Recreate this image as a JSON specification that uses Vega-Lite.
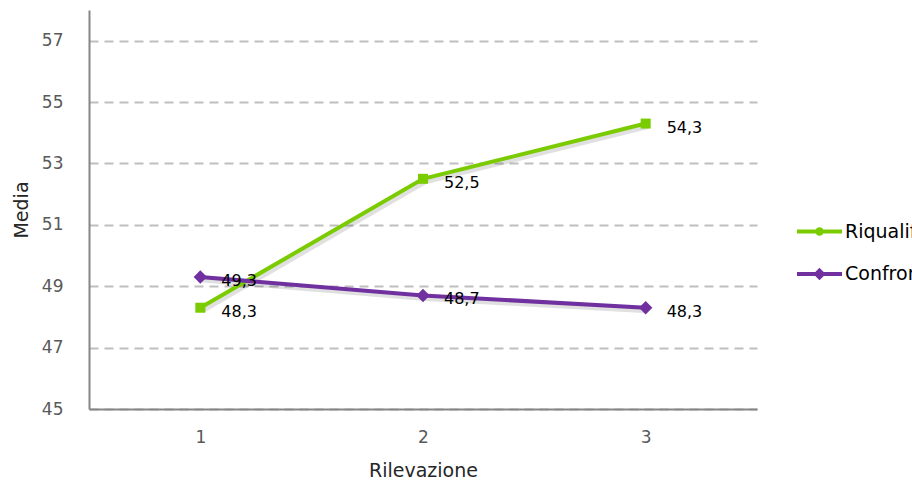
{
  "$schema": "https://vega.github.io/schema/vega-lite/v6.json",
  "width": 668,
  "height": 399,
  "autosize": {"type": "none"},
  "padding": {"left": 89, "top": 10, "right": 155, "bottom": 77},
  "background": "white",
  "config": {
    "locale": {"number": {"decimal": ",", "thousands": ".", "grouping": [3], "currency": ["€", ""]}},
    "view": {"stroke": null},
    "font": "DejaVu Sans"
  },
  "data": {
    "values": [
      {"serie": "Riqualificazione", "rilevazione": "1", "media": 48.3},
      {"serie": "Riqualificazione", "rilevazione": "2", "media": 52.5},
      {"serie": "Riqualificazione", "rilevazione": "3", "media": 54.3},
      {"serie": "Confronto", "rilevazione": "1", "media": 49.3},
      {"serie": "Confronto", "rilevazione": "2", "media": 48.7},
      {"serie": "Confronto", "rilevazione": "3", "media": 48.3}
    ]
  },
  "encoding": {
    "x": {
      "field": "rilevazione", "type": "ordinal",
      "scale": {"type": "point", "padding": 0.5},
      "axis": {
        "title": "Rilevazione", "labelAngle": 0, "ticks": false, "grid": false,
        "domainColor": "#868686", "domainWidth": 2,
        "labelFontSize": 17, "labelColor": "#595959", "labelPadding": 20,
        "titleFontSize": 19, "titleFontWeight": "normal", "titleColor": "#262626", "titlePadding": 16
      }
    },
    "y": {
      "field": "media", "type": "quantitative",
      "scale": {"domain": [45, 58], "nice": false, "zero": false},
      "axis": {
        "title": "Media", "values": [45, 47, 49, 51, 53, 55, 57], "ticks": false,
        "grid": true, "gridDash": [9, 6], "gridColor": "#bfbfbf", "gridWidth": 2,
        "domainColor": "#868686", "domainWidth": 2,
        "labelFontSize": 17, "labelColor": "#595959", "labelPadding": 26,
        "titleFontSize": 19, "titleFontWeight": "normal", "titleColor": "#262626", "titlePadding": 10
      }
    }
  },
  "layer": [
    {
      "mark": {"type": "line", "strokeWidth": 5, "color": "#000000", "opacity": 0.12, "xOffset": 2, "yOffset": 3},
      "encoding": {"detail": {"field": "serie"}}
    },
    {
      "mark": {"type": "line", "strokeWidth": 4},
      "encoding": {
        "color": {
          "field": "serie", "type": "nominal",
          "scale": {"domain": ["Riqualificazione", "Confronto"], "range": ["#7ACB00", "#7030A0"]},
          "legend": {
            "orient": "none", "legendX": 717, "legendY": 208, "title": null,
            "symbolType": "M-2,0L2,0M-0.2,0A0.2,0.2,0,1,1,0.2,0A0.2,0.2,0,1,1,-0.2,0Z",
            "symbolSize": 506, "symbolStrokeWidth": 4,
            "labelFontSize": 19, "labelColor": "#000000", "labelOffset": 12,
            "rowPadding": 18.5, "padding": 0,
            "encode": {
              "symbols": {
                "update": {
                  "shape": {"signal": "datum.value === 'Confronto' ? 'M-2,0L2,0M0,-0.3L0.3,0L0,0.3L-0.3,0Z' : 'M-2,0L2,0M-0.2,0A0.2,0.2,0,1,1,0.2,0A0.2,0.2,0,1,1,-0.2,0Z'"}
                }
              }
            }
          }
        }
      }
    },
    {
      "transform": [{"filter": "datum.serie === 'Riqualificazione'"}],
      "mark": {"type": "point", "shape": "square", "filled": true, "size": 100, "color": "#7ACB00", "opacity": 1}
    },
    {
      "transform": [{"filter": "datum.serie === 'Confronto'"}],
      "mark": {"type": "point", "shape": "diamond", "filled": true, "size": 180, "color": "#7030A0", "opacity": 1}
    },
    {
      "mark": {"type": "text", "align": "left", "baseline": "middle", "dx": 21, "dy": 4, "fontSize": 16, "color": "#000000"},
      "encoding": {"text": {"field": "media", "type": "quantitative", "format": ".1f"}}
    }
  ]
}
